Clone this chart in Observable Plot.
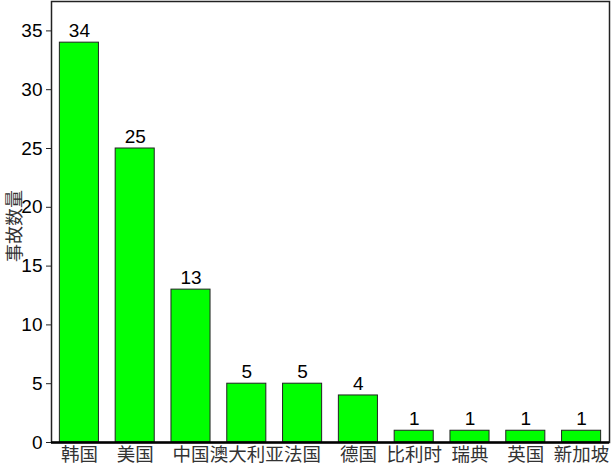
<!DOCTYPE html>
<html>
<head>
<meta charset="utf-8">
<script src="https://cdn.jsdelivr.net/npm/d3@7"></script>
<script src="https://cdn.jsdelivr.net/npm/@observablehq/plot@0.6"></script>
<style>
  html, body { margin: 0; padding: 0; background: #fff; }
  #chart svg { display: block; }
</style>
</head>
<body>
<div id="chart"></div>
<script>
const countries = ["韩国", "美国", "中国", "澳大利亚", "法国", "德国", "比利时", "瑞典", "英国", "新加坡"];
const accidents = [34, 25, 13, 5, 5, 4, 1, 1, 1, 1];
const yTicks = [0, 5, 10, 15, 20, 25, 30, 35];
const yLabel = "事故数量";

const data = countries.map((c, i) => ({country: c, value: accidents[i]}));

const chart = Plot.plot({
  width: 612,
  height: 466,
  marginLeft: 51,
  marginRight: 3,
  marginTop: 1,
  marginBottom: 24,
  style: {background: "#fff", fontFamily: "Liberation Sans, Arial, sans-serif"},
  x: {domain: countries, paddingInner: 0.3, paddingOuter: 0.15, round: false, label: null},
  y: {domain: [0, 37.5], label: null},
  marks: [
    Plot.barY(data, {x: "country", y: "value", fill: "#00ff00", stroke: "#222", strokeWidth: 1}),
    Plot.text(data, {x: "country", y: "value", text: d => String(d.value), dy: -12, fontSize: 19, fill: "#000"}),
    Plot.frame({stroke: "#222", strokeWidth: 1.5}),
    Plot.ruleY([0], {stroke: "#000", strokeWidth: 2.5}),
    Plot.axisY({ticks: yTicks, tickSize: 5, tickPadding: 4, fontSize: 19, label: null, stroke: "#222", fill: "#000"}),
    Plot.axisX({tickSize: 0, tickPadding: 5, fontSize: 18.5, label: null, fontFamily: "Noto Sans CJK SC", fill: "#333"}),
    Plot.text([yLabel], {frameAnchor: "left", textAnchor: "middle", dx: -36, dy: 4, rotate: -90, fontSize: 18, fontFamily: "Noto Sans CJK SC", fill: "#333"})
  ]
});
document.getElementById("chart").appendChild(chart);
</script>
</body>
</html>
